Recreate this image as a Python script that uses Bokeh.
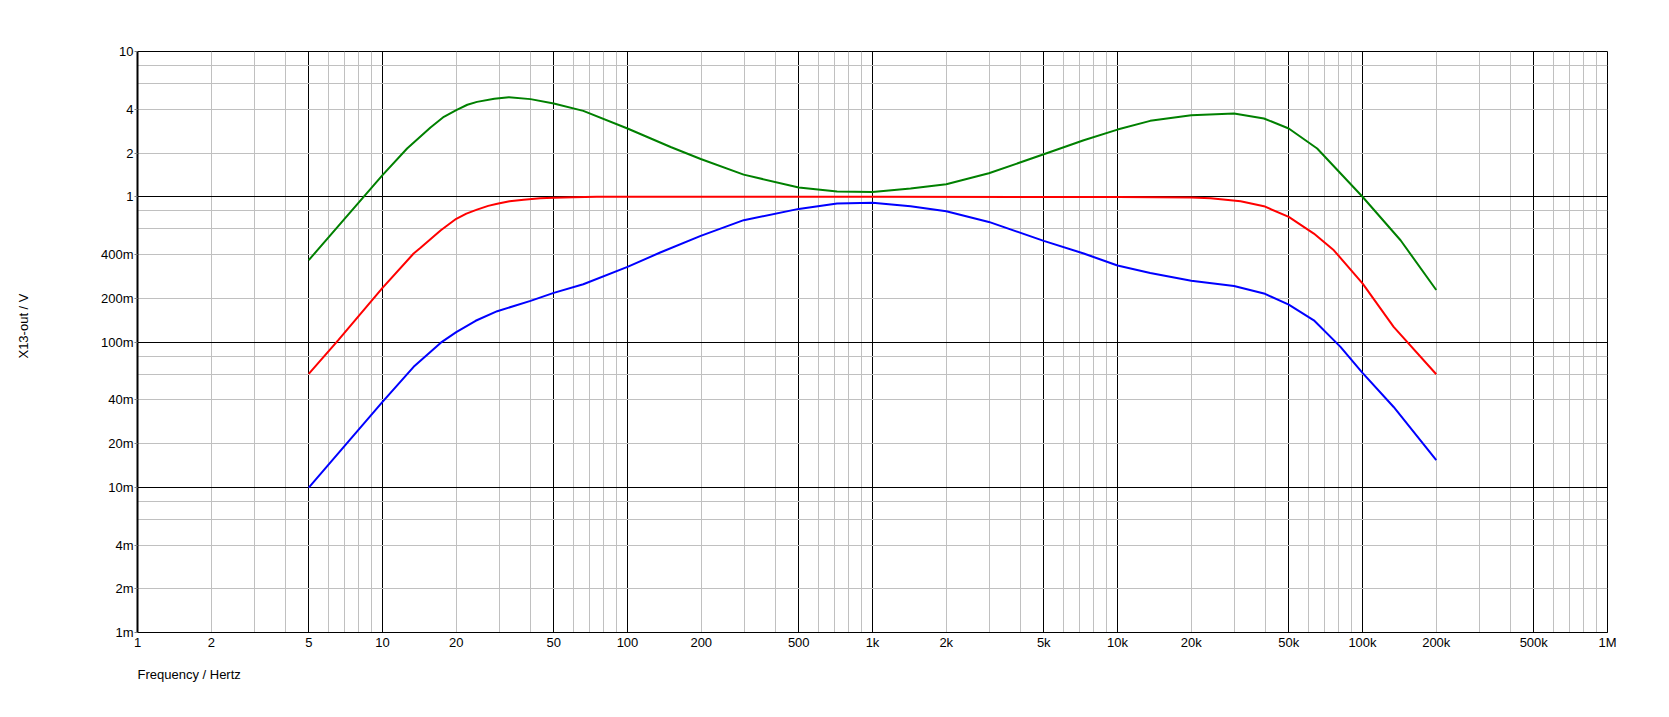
from bokeh.plotting import figure
from bokeh.models import Range1d, FixedTicker, Title
from bokeh.embed import file_html
from bokeh.resources import INLINE

# ---- data ----
green_f = [5, 10, 12.6, 15.7, 17.8, 20, 22.2, 24.3, 28.6, 32.8, 40.2, 50, 66, 100, 150,
           199, 298, 500, 717, 1000, 1430, 2000, 2985, 5000, 7280, 10000, 13600, 20000,
           29900, 39600, 50000, 65300, 100000, 143000, 200000]
green_v = [0.366, 1.41, 2.15, 3.0, 3.55, 3.95, 4.3, 4.5, 4.72, 4.85, 4.7, 4.38, 3.9, 2.95,
           2.2, 1.82, 1.42, 1.158, 1.087, 1.08, 1.14, 1.22, 1.45, 1.96, 2.45, 2.90, 3.33,
           3.64, 3.74, 3.46, 2.95, 2.15, 1.0, 0.502, 0.228]

red_f = [5, 6.6, 10, 13.4, 14.3, 17.3, 20, 22, 24.3, 27, 29.4, 33, 37.7, 44, 50, 60, 75,
         1000, 10000, 20000, 24000, 31800, 39600, 50000, 63300, 76400, 100000, 134000,
         200000]
red_v = [0.0604, 0.103, 0.236, 0.407, 0.445, 0.588, 0.705, 0.765, 0.815, 0.865, 0.895,
         0.93, 0.955, 0.975, 0.985, 0.993, 1.0, 1.0, 0.995, 0.99, 0.975, 0.932, 0.861,
         0.726, 0.558, 0.428, 0.253, 0.127, 0.060]

blue_f = [5, 10, 13.4, 17.3, 20, 24, 29.4, 40.2, 50, 66, 100, 136, 199, 298, 500, 717,
          1000, 1430, 2000, 2985, 5000, 7280, 10000, 13600, 20000, 29900, 39600, 50000,
          63300, 81300, 100000, 134000, 200000]
blue_v = [0.00995, 0.0387, 0.0675, 0.099, 0.117, 0.14, 0.163, 0.192, 0.218, 0.25, 0.329,
          0.413, 0.538, 0.690, 0.825, 0.898, 0.908, 0.861, 0.795, 0.671, 0.497, 0.407,
          0.336, 0.299, 0.264, 0.243, 0.216, 0.181, 0.141, 0.0926, 0.0613, 0.0357,
          0.01535]

x_tick_values = [1, 2, 5, 10, 20, 50, 100, 200, 500, 1000, 2000, 5000, 10000, 20000,
                 50000, 100000, 200000, 500000, 1000000]
x_tick_labels = ["1", "2", "5", "10", "20", "50", "100", "200", "500", "1k", "2k", "5k",
                 "10k", "20k", "50k", "100k", "200k", "500k", "1M"]
y_tick_values = [0.001, 0.002, 0.004, 0.01, 0.02, 0.04, 0.1, 0.2, 0.4, 1, 2, 4, 10]
y_tick_labels = ["1m", "2m", "4m", "10m", "20m", "40m", "100m", "200m", "400m",
                 "1", "2", "4", "10"]

x_label = "Frequency / Hertz"
y_label = "X13-out / V"

# ---- grid positions ----
x_black = []
x_gray = []
for k in range(0, 6):
    d = 10 ** k
    x_black += [d, 5 * d]
    x_gray += [m * d for m in (2, 3, 4, 6, 7, 8, 9)]
x_black.append(10 ** 6)
y_black = [0.001, 0.01, 0.1, 1, 10]
y_gray = []
for k in range(-3, 1):
    d = 10.0 ** k
    y_gray += [m * d for m in (2, 4, 6, 8)]

FONT = "Liberation Sans"
FSIZE = "13px"

p = figure(width=1661, height=708, x_axis_type="log", y_axis_type="log",
           x_range=Range1d(1, 1e6), y_range=Range1d(1e-3, 10),
           output_backend="svg", toolbar_location=None,
           min_border_left=137, min_border_right=54, min_border_top=51,
           min_border_bottom=76)

p.outline_line_color = "black"
p.outline_line_width = 1
p.background_fill_color = "white"
p.border_fill_color = "white"

# grids
p.xgrid.ticker = FixedTicker(ticks=x_black, minor_ticks=x_gray)
p.ygrid.ticker = FixedTicker(ticks=y_black, minor_ticks=y_gray)
for g in (p.xgrid, p.ygrid):
    g.grid_line_color = "black"
    g.grid_line_width = 1
    g.grid_line_alpha = 1.0
    g.minor_grid_line_color = "#c0c0c0"
    g.minor_grid_line_width = 1

# axes
p.xaxis.ticker = FixedTicker(ticks=x_tick_values)
p.yaxis.ticker = FixedTicker(ticks=y_tick_values)
p.xaxis.major_label_overrides = {float(v): s for v, s in zip(x_tick_values, x_tick_labels)}
p.yaxis.major_label_overrides = {float(v): s for v, s in zip(y_tick_values, y_tick_labels)}
for ax in (p.xaxis, p.yaxis):
    ax.major_label_text_font = FONT
    ax.major_label_text_font_size = FSIZE
    ax.major_label_text_color = "black"
    ax.minor_tick_in = 0
    ax.minor_tick_out = 0
    ax.major_tick_in = 0
    ax.axis_line_color = "black"
p.xaxis.major_tick_out = 0
p.xaxis.major_label_standoff = 2
p.xaxis.axis_line_width = 1
p.yaxis.major_tick_out = 3
p.yaxis.major_tick_line_color = "#808080"
p.yaxis.major_label_standoff = 1
p.yaxis.axis_line_width = 2
# blank spacer label widens the y-axis panel so the title sits far left
p.yaxis.axis_label = " "
p.yaxis.axis_label_standoff = 50
p.yaxis.axis_label_text_font_size = "12px"

# curves
p.line(green_f, green_v, line_color="#008000", line_width=2)
p.line(red_f, red_v, line_color="#ff0000", line_width=2)
p.line(blue_f, blue_v, line_color="#0000ff", line_width=2)

# axis titles
xt = Title(text=x_label, align="left", text_font=FONT, text_font_size=FSIZE,
           text_font_style="normal", text_color="black", standoff=24)
p.add_layout(xt, "below")
yt = Title(text=y_label, align="right", offset=242, text_font=FONT,
           text_font_size=FSIZE, text_font_style="normal", text_color="black",
           standoff=0)
p.add_layout(yt, "left")

open("out.html", "w").write(file_html(p, INLINE))
